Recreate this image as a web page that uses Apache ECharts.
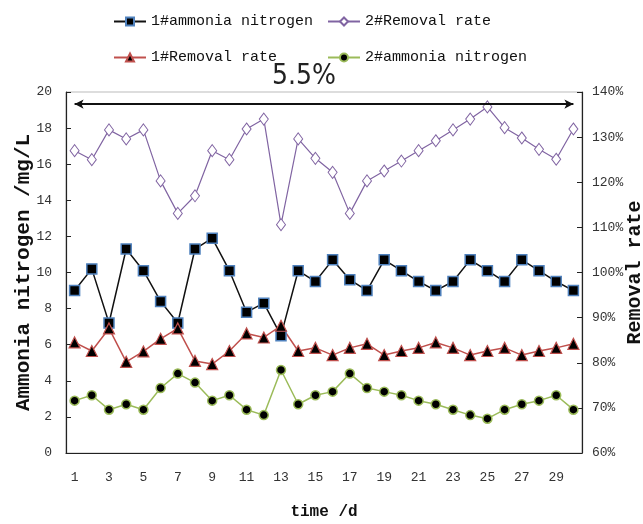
<!DOCTYPE html>
<html>
<head>
<meta charset="utf-8">
<script src="https://cdn.jsdelivr.net/npm/echarts@6/dist/echarts.min.js"></script>
<style>
html,body{margin:0;padding:0;background:#fff;}
#chart{width:643px;height:524px;}
</style>
</head>
<body>
<div id="chart"></div>
<script>
// ---- data ----
var days = ['1','2','3','4','5','6','7','8','9','10','11','12','13','14','15','16','17','18','19','20','21','22','23','24','25','26','27','28','29','30'];
var ammonia1 = [9.0,10.2,7.2,11.3,10.1,8.4,7.2,11.3,11.9,10.1,7.8,8.3,6.5,10.1,9.5,10.7,9.6,9.0,10.7,10.1,9.5,9.0,9.5,10.7,10.1,9.5,10.7,10.1,9.5,9.0];
var removal1 = [84.5,82.6,87.6,80.2,82.5,85.3,87.6,80.4,79.7,82.6,86.5,85.6,88.2,82.6,83.3,81.7,83.3,84.2,81.7,82.6,83.3,84.5,83.3,81.7,82.6,83.3,81.7,82.6,83.3,84.2];
var ammonia2 = [2.9,3.2,2.4,2.7,2.4,3.6,4.4,3.9,2.9,3.2,2.4,2.1,4.6,2.7,3.2,3.4,4.4,3.6,3.4,3.2,2.9,2.7,2.4,2.1,1.9,2.4,2.7,2.9,3.2,2.4];
var removal2 = [127.0,125.0,131.6,129.6,131.6,120.3,113.1,117.0,127.0,125.0,131.8,134.0,110.6,129.6,125.3,122.2,113.1,120.3,122.5,124.7,127.0,129.2,131.6,134.0,136.7,132.1,129.8,127.3,125.1,131.8];
var seriesNames = ['1#ammonia nitrogen','2#Removal rate','1#Removal rate','2#ammonia nitrogen'];
var arrowLevel = 19.33;
var arrowText = '5.5%';

var mono = '"Liberation Mono","DejaVu Sans Mono",monospace';

var chart = echarts.init(document.getElementById('chart'));
function leg(name, left, top){
  return {data:[name], left:left, top:top, padding:0, itemWidth:32, itemHeight:10, itemGap:0,
    textStyle:{fontFamily:mono, fontSize:15, color:'#111'}};
}
chart.setOption({
  backgroundColor:'#fff',
  animation:false,
  title:{text:arrowText, left:272, top:63, padding:0,
    textStyle:{fontFamily:'"Liberation Sans Narrow","DejaVu Sans Condensed","Liberation Sans",sans-serif', fontSize:28, fontWeight:'normal', color:'#222'}},
  legend:[
    leg(seriesNames[0],113,14),
    leg(seriesNames[1],327,14),
    leg(seriesNames[2],113,50),
    leg(seriesNames[3],327,50)
  ],
  grid:{left:66, right:61, top:92, bottom:71, show:true, borderColor:'#bbb', borderWidth:1,
    containLabel:false, outerBoundsMode:'none'},
  xAxis:{type:'category', data:days, boundaryGap:true,
    name:'time /d', nameLocation:'middle', nameGap:51, nameMoveOverlap:false,
    nameTextStyle:{fontFamily:mono, fontSize:16, fontWeight:'bold', color:'#111'},
    axisLine:{lineStyle:{color:'#222', width:1.2}},
    axisTick:{inside:true, length:5, interval:0, lineStyle:{color:'#222'}},
    axisLabel:{interval:1, margin:18, fontFamily:mono, fontSize:13, color:'#333'},
    splitLine:{show:false}
  },
  yAxis:[
    {type:'value', min:0, max:20, interval:2, position:'left',
      name:'Ammonia nitrogen /mg/L', nameLocation:'middle', nameGap:32, nameRotate:90, nameMoveOverlap:false,
      nameTextStyle:{fontFamily:mono, fontSize:21, fontWeight:'bold', color:'#111'},
      axisLine:{show:true, lineStyle:{color:'#222', width:1.2}},
      axisTick:{show:true, inside:true, length:5, lineStyle:{color:'#222'}},
      axisLabel:{margin:14, fontFamily:mono, fontSize:13, color:'#333'},
      splitLine:{show:false}
    },
    {type:'value', min:60, max:140, interval:10, position:'right',
      name:'Removal rate', nameLocation:'middle', nameGap:43, nameRotate:90, nameMoveOverlap:false,
      nameTextStyle:{fontFamily:mono, fontSize:20, fontWeight:'bold', color:'#111'},
      axisLine:{show:true, lineStyle:{color:'#222', width:1.2}},
      axisTick:{show:true, inside:true, length:5, lineStyle:{color:'#222'}},
      axisLabel:{margin:10, fontFamily:mono, fontSize:13, color:'#333', formatter:'{value}%'},
      splitLine:{show:false}
    }
  ],
  series:[
    {name:seriesNames[0], type:'line', yAxisIndex:0, data:ammonia1, showAllSymbol:true,
      symbol:'rect', symbolSize:10,
      lineStyle:{color:'#111', width:1.5},
      itemStyle:{color:'#000', borderColor:'#4f81bd', borderWidth:1.5},
      markLine:{silent:true, symbol:['arrow','arrow'], symbolSize:[7,9],
        lineStyle:{color:'#111', width:2, type:'solid'},
        label:{show:false},
        data:[[{coord:[days[0], arrowLevel]},{coord:[days[days.length-1], arrowLevel]}]]
      }
    },
    {name:seriesNames[1], type:'line', yAxisIndex:1, data:removal2, showAllSymbol:true,
      symbol:'diamond', symbolSize:[9,12],
      lineStyle:{color:'#8064a2', width:1.2},
      itemStyle:{color:'#fff', borderColor:'#8064a2', borderWidth:1}
    },
    {name:seriesNames[2], type:'line', yAxisIndex:1, data:removal1, showAllSymbol:true,
      symbol:'triangle', symbolSize:11,
      lineStyle:{color:'#c0504d', width:1.5},
      itemStyle:{color:'#000', borderColor:'#c0504d', borderWidth:1.2}
    },
    {name:seriesNames[3], type:'line', yAxisIndex:0, data:ammonia2, showAllSymbol:true,
      symbol:'circle', symbolSize:9,
      lineStyle:{color:'#9bbb59', width:1.5},
      itemStyle:{color:'#000', borderColor:'#9bbb59', borderWidth:1.5}
    }
  ]
});
</script>
</body>
</html>
